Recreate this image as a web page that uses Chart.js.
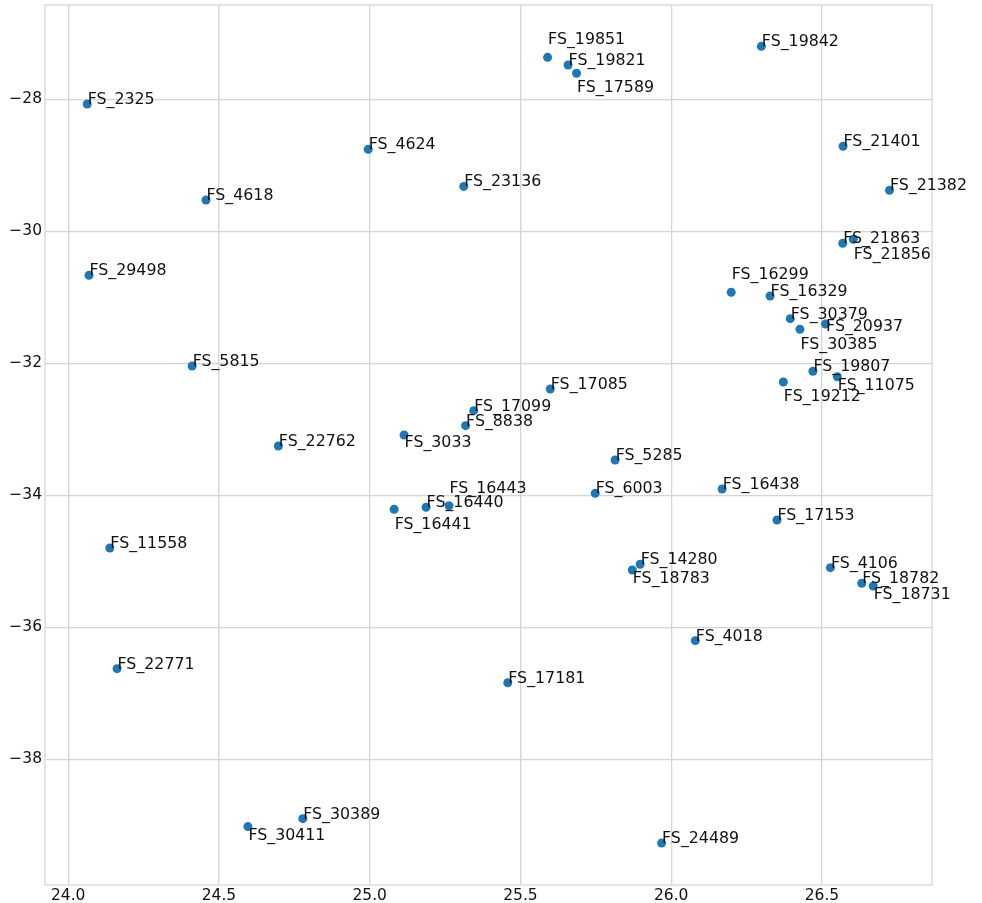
<!DOCTYPE html>
<html>
<head>
<meta charset="utf-8">
<script src="https://cdn.jsdelivr.net/npm/chart.js@4/dist/chart.umd.min.js"></script>
<style>
  html, body { margin: 0; padding: 0; background: #fff; }
  #wrap { width: 982px; height: 903px; }
</style>
</head>
<body>
<div id="wrap"><canvas id="chart1"></canvas></div>
<script>
// Datos: nombres de los puntos y coordenadas
const names = ['FS_19851', 'FS_19821', 'FS_17589', 'FS_19842', 'FS_2325', 'FS_4624', 'FS_23136',
  'FS_21401', 'FS_4618', 'FS_21382', 'FS_21863', 'FS_21856', 'FS_29498', 'FS_16299', 'FS_16329',
  'FS_30379', 'FS_20937', 'FS_30385', 'FS_5815', 'FS_19807', 'FS_11075', 'FS_19212', 'FS_17085',
  'FS_17099', 'FS_8838', 'FS_3033', 'FS_22762', 'FS_5285', 'FS_16438', 'FS_6003', 'FS_16443',
  'FS_16440', 'FS_16441', 'FS_17153', 'FS_11558', 'FS_14280', 'FS_18783', 'FS_4106', 'FS_18782',
  'FS_18731', 'FS_4018', 'FS_22771', 'FS_17181', 'FS_30389', 'FS_30411', 'FS_24489'];
const xValues = [25.590, 25.658, 25.686, 26.299, 24.063, 24.995, 25.312,
  26.570, 24.457, 26.724, 26.569, 26.604, 24.069, 26.199, 26.328,
  26.395, 26.512, 26.427, 24.411, 26.470, 26.551, 26.372, 25.599,
  25.345, 25.318, 25.114, 24.697, 25.814, 26.169, 25.748, 25.263,
  25.187, 25.081, 26.351, 24.138, 25.897, 25.871, 26.528, 26.632,
  26.670, 26.080, 24.162, 25.458, 24.778, 24.596, 25.968];
const yValues = [-27.364, -27.480, -27.606, -27.197, -28.071, -28.758, -29.320,
  -28.712, -29.526, -29.379, -30.182, -30.121, -30.667, -30.924, -30.980,
  -31.324, -31.405, -31.485, -32.041, -32.121, -32.203, -32.283, -32.389,
  -32.718, -32.945, -33.086, -33.253, -33.465, -33.905, -33.970, -34.158,
  -34.182, -34.212, -34.374, -34.798, -35.045, -35.132, -35.097, -35.333,
  -35.374, -36.203, -36.627, -36.840, -38.900, -39.020, -39.270];
const xTicks = [24.0, 24.5, 25.0, 25.5, 26.0, 26.5];
const yTicks = [-38, -36, -34, -32, -30, -28];

// Desplazamiento de algunas etiquetas (px) respecto al punto
const labelShift = {
  'FS_19851': -13, 'FS_17589': 19, 'FS_21856': 20, 'FS_16299': -13, 'FS_30385': 20,
  'FS_20937': 7, 'FS_11075': 13, 'FS_19212': 19, 'FS_3033': 12, 'FS_16441': 20,
  'FS_16443': -13, 'FS_18783': 13, 'FS_18731': 13, 'FS_30411': 13
};

const points = xValues.map((x, i) => ({ x: x, y: yValues[i] }));
const FONT = '"DejaVu Sans", sans-serif';

const framePlugin = {
  id: 'frame',
  beforeDatasetsDraw(chart) {
    const a = chart.chartArea;
    const c = chart.ctx;
    c.save();
    c.strokeStyle = '#dcdcdc';
    c.lineWidth = 1.5;
    c.strokeRect(a.left, a.top, a.right - a.left, a.bottom - a.top);
    c.restore();
  },
  afterDatasetsDraw(chart) {
    const c = chart.ctx;
    const xs = chart.scales.x, ys = chart.scales.y;
    c.save();
    c.font = '15.8px ' + FONT;
    c.fillStyle = '#111';
    c.textAlign = 'left';
    c.textBaseline = 'alphabetic';
    names.forEach((n, i) => {
      const px = xs.getPixelForValue(xValues[i]);
      const py = ys.getPixelForValue(yValues[i]);
      c.fillText(n, px + 0.5, py + (labelShift[n] || 0));
    });
    c.restore();
  }
};

new Chart(document.getElementById('chart1').getContext('2d'), {
  type: 'scatter',
  data: {
    datasets: [{
      data: points,
      backgroundColor: '#1f77b4',
      borderColor: '#1f77b4',
      pointRadius: 4.5,
      borderWidth: 0
    }]
  },
  options: {
    responsive: true,
    maintainAspectRatio: false,
    animation: false,
    events: [],
    layout: { padding: { top: 5, right: 50, left: 0, bottom: 0 } },
    plugins: { legend: { display: false }, tooltip: { enabled: false } },
    scales: {
      x: {
        type: 'linear',
        min: 23.923,
        max: 26.865,
        afterBuildTicks: s => { s.ticks = xTicks.map(v => ({ value: v })); },
        afterFit: s => { s.height = 18; s.paddingLeft = 0; s.paddingRight = 0; },
        grid: { color: '#d4d4d4', lineWidth: 1.3, drawTicks: false },
        border: { display: false },
        ticks: {
          padding: 2,
          color: '#111',
          font: { family: FONT, size: 15.5 },
          maxRotation: 0,
          callback: v => v.toFixed(1)
        }
      },
      y: {
        type: 'linear',
        min: -39.905,
        max: -26.571,
        afterBuildTicks: s => { s.ticks = yTicks.map(v => ({ value: v })); },
        afterFit: s => { s.width = 45; s.paddingTop = 0; s.paddingBottom = 0; },
        grid: { color: '#d4d4d4', lineWidth: 1.3, drawTicks: false },
        border: { display: false },
        ticks: {
          padding: 3,
          color: '#111',
          font: { family: FONT, size: 15.5 },
          callback: v => String(v).replace('-', '\u2212')
        }
      }
    }
  },
  plugins: [framePlugin]
});
</script>
</body>
</html>
